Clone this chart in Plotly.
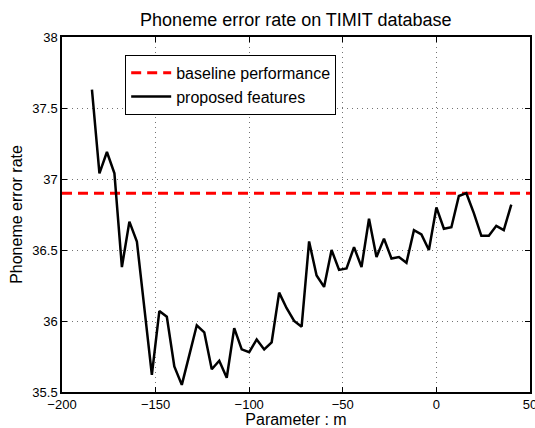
import plotly.graph_objects as go

# Parameter m and the phoneme error rate obtained with the proposed features
param_m = [-184, -180, -176, -172, -168, -164, -160, -156, -152, -148,
           -144, -140, -136, -132, -128, -124, -120, -116, -112, -108,
           -104, -100, -96, -92, -88, -84, -80, -76, -72, -68,
           -64, -60, -56, -52, -48, -44, -40, -36, -32, -28,
           -24, -20, -16, -12, -8, -4, 0, 4, 8, 12,
           16, 20, 24, 28, 32, 36, 40]
proposed_per = [37.63, 37.04, 37.19, 37.04, 36.38, 36.70, 36.56, 36.10, 35.62, 36.07,
                36.03, 35.68, 35.55, 35.76, 35.97, 35.92, 35.66, 35.72, 35.60, 35.95,
                35.80, 35.78, 35.87, 35.80, 35.85, 36.20, 36.09, 36.00, 35.96, 36.56,
                36.32, 36.24, 36.50, 36.36, 36.37, 36.52, 36.38, 36.72, 36.45, 36.58,
                36.44, 36.45, 36.41, 36.64, 36.61, 36.50, 36.80, 36.65, 36.66, 36.88,
                36.90, 36.76, 36.60, 36.60, 36.67, 36.64, 36.82]

# Baseline phoneme error rate (constant over m)
baseline_per = 36.90
x_range = [-200, 50]

x_ticks = [-200, -150, -100, -50, 0, 50]
y_ticks = [35.5, 36, 36.5, 37, 37.5, 38]
y_tick_text = ["35.5", "36", "36.5", "37", "37.5", "38"]

FONT = "Liberation Sans, Arial, Helvetica, sans-serif"

fig = go.Figure()
fig.add_trace(go.Scatter(
    x=x_range, y=[baseline_per, baseline_per], mode="lines",
    name="baseline performance",
    line=dict(color="#ff0000", width=3, dash="10px,6px"),
))
fig.add_trace(go.Scatter(
    x=param_m, y=proposed_per, mode="lines",
    name="proposed features",
    line=dict(color="black", width=2.5),
))

axis_common = dict(
    showline=True, linecolor="black", linewidth=1.5, mirror="ticks",
    ticks="inside", ticklen=5, tickcolor="black", tickwidth=1,
    showgrid=True, gridcolor="rgba(0,0,0,0.55)", gridwidth=1, griddash="1px,4px",
    zeroline=False, automargin=False, ticklabeloverflow="allow",
    tickfont=dict(family=FONT, size=13, color="black"),
)

fig.update_layout(
    width=535, height=428,
    margin=dict(l=62, r=5, t=37, b=36),
    paper_bgcolor="white", plot_bgcolor="white",
    font=dict(family=FONT, color="black"),
    title=dict(text="Phoneme error rate on TIMIT database",
               x=0.553, xanchor="center", y=0.955, yanchor="middle",
               font=dict(family=FONT, size=18, color="black")),
    xaxis=dict(range=x_range, tickvals=x_ticks,
               title=dict(text="Parameter : m", standoff=2,
                          font=dict(family=FONT, size=16)),
               **axis_common),
    yaxis=dict(range=[35.5, 38], tickvals=y_ticks, ticktext=y_tick_text,
               title=dict(text="Phoneme error rate", standoff=6,
                          font=dict(family=FONT, size=16)),
               **axis_common),
    legend=dict(x=0.135, y=0.95, xanchor="left", yanchor="top",
                bgcolor="white", bordercolor="black", borderwidth=1,
                font=dict(family=FONT, size=16, color="black"),
                tracegroupgap=0, itemwidth=40),
    showlegend=True,
)

fig.write_html("out.html")
